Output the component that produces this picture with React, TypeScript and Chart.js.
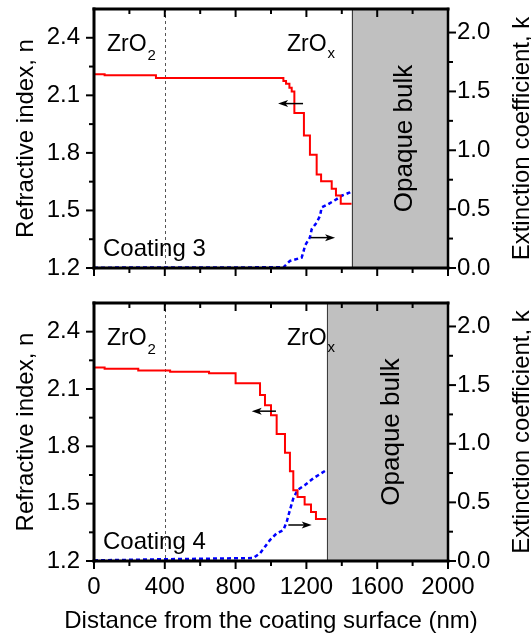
import React, { useEffect, useRef } from 'react';
import { Chart, registerables } from 'chart.js';

Chart.register(...registerables);

const FONT = '"Liberation Sans", Arial, Helvetica, sans-serif';

// Axis ranges and tick positions
const xRange = [0, 2000];
const nRange = [1.2, 2.55];
const kRange = [0, 2.2];
const xTicks = [0, 400, 800, 1200, 1600, 2000];
const xMinorTicks = [200, 600, 1000, 1400, 1800];
const nTicks = [1.2, 1.5, 1.8, 2.1, 2.4];
const nMinorTicks = [1.35, 1.65, 1.95, 2.25];
const kTicks = [0, 0.5, 1.0, 1.5, 2.0];
const kMinorTicks = [0.25, 0.75, 1.25, 1.75];

// Depth of the ZrO2 / ZrOx boundary marker (nm)
const zro2Boundary = 400;

// Coating 3: refractive index profile (stepped) and extinction coefficient
const c3DepthN = [0, 60, 350, 1070, 1085, 1104, 1117, 1132, 1186, 1220, 1258, 1283, 1343, 1367, 1394, 1418, 1455];
const c3N = [2.215, 2.21, 2.205, 2.19, 2.175, 2.16, 2.14, 2.12, 2.008, 1.89, 1.79, 1.687, 1.652, 1.613, 1.578, 1.535, 1.535];
const c3DepthK = [0, 600, 1070, 1107, 1173, 1182, 1192, 1220, 1230, 1258, 1277, 1286, 1324, 1371, 1399, 1446, 1455];
const c3K = [0.003, 0.004, 0.006, 0.06, 0.088, 0.13, 0.19, 0.26, 0.33, 0.386, 0.443, 0.514, 0.543, 0.585, 0.614, 0.642, 0.648];
const c3Bulk = 1455;
const c3ArrowN = [1181, 1040, 2.057]; // from depth, to depth, n
const c3ArrowK = [1224, 1362, 0.258]; // from depth, to depth, k

// Coating 4
const c4DepthN = [0, 60, 250, 430, 650, 800, 938, 966, 1000, 1032, 1079, 1107, 1126, 1150, 1190, 1226, 1254, 1290, 1313];
const c4N = [2.217, 2.213, 2.206, 2.197, 2.19, 2.182, 2.13, 2.068, 2.015, 1.962, 1.864, 1.766, 1.67, 1.57, 1.535, 1.495, 1.457, 1.42, 1.42];
const c4DepthK = [0, 400, 900, 938, 966, 994, 1032, 1070, 1089, 1107, 1126, 1150, 1192, 1239, 1313];
const c4K = [0.005, 0.015, 0.025, 0.066, 0.122, 0.179, 0.236, 0.264, 0.335, 0.435, 0.534, 0.605, 0.648, 0.705, 0.775];
const c4Bulk = 1315;
const c4ArrowN = [1028, 891, 1.984];
const c4ArrowK = [1098, 1230, 0.307];

const zroxDepth = 1090;

type Panel = {
  label: string;
  depthN: number[];
  n: number[];
  depthK: number[];
  k: number[];
  bulk: number;
  arrowN: number[];
  arrowK: number[];
  showX: boolean;
  top: number;
  xHeight: number;
  height: number;
};

const panels: Panel[] = [
  { label: 'Coating 3', depthN: c3DepthN, n: c3N, depthK: c3DepthK, k: c3K, bulk: c3Bulk,
    arrowN: c3ArrowN, arrowK: c3ArrowK, showX: false, top: 9, xHeight: 22, height: 290 },
  { label: 'Coating 4', depthN: c4DepthN, n: c4N, depthK: c4DepthK, k: c4K, bulk: c4Bulk,
    arrowN: c4ArrowN, arrowK: c4ArrowK, showX: true, top: 13, xHeight: 73, height: 344 },
];

function seg(ctx: CanvasRenderingContext2D, x1: number, y1: number, x2: number, y2: number) {
  ctx.beginPath();
  ctx.moveTo(x1, y1);
  ctx.lineTo(x2, y2);
  ctx.stroke();
}

function arrow(ctx: CanvasRenderingContext2D, x1: number, y: number, x2: number) {
  const dir = Math.sign(x2 - x1);
  const head = 10;
  ctx.save();
  ctx.strokeStyle = '#000';
  ctx.fillStyle = '#000';
  ctx.lineWidth = 1.5;
  seg(ctx, x1, y, x2 - dir * head * 0.6, y);
  ctx.beginPath();
  ctx.moveTo(x2, y);
  ctx.lineTo(x2 - dir * head, y - 3.5);
  ctx.lineTo(x2 - dir * head * 0.75, y);
  ctx.lineTo(x2 - dir * head, y + 3.5);
  ctx.closePath();
  ctx.fill();
  ctx.restore();
}

function withSub(ctx: CanvasRenderingContext2D, x: number, y: number, main: string, sub: string, subDy: number) {
  ctx.font = `23px ${FONT}`;
  ctx.textAlign = 'left';
  ctx.textBaseline = 'alphabetic';
  ctx.fillText(main, x, y);
  const w = ctx.measureText(main).width;
  ctx.font = `15px ${FONT}`;
  ctx.fillText(sub, x + w + 1, y + subDy);
}

function vText(ctx: CanvasRenderingContext2D, text: string, x: number, y: number, size: number) {
  ctx.save();
  ctx.translate(x, y);
  ctx.rotate(-Math.PI / 2);
  ctx.font = `${size}px ${FONT}`;
  ctx.textAlign = 'center';
  ctx.textBaseline = 'alphabetic';
  ctx.fillText(text, 0, 0);
  ctx.restore();
}

function decorPlugin(p: Panel) {
  return {
    id: 'decor',
    beforeDatasetsDraw(chart: any) {
      const { ctx, chartArea: a, scales } = chart;
      const bx = scales.x.getPixelForValue(p.bulk);
      ctx.save();
      ctx.fillStyle = '#c0c0c0';
      ctx.fillRect(bx, a.top, a.right - bx, a.bottom - a.top);
      ctx.strokeStyle = '#3c3c3c';
      ctx.lineWidth = 1;
      seg(ctx, Math.round(bx) + 0.5, a.top, Math.round(bx) + 0.5, a.bottom);
      const dx = Math.round(scales.x.getPixelForValue(zro2Boundary)) + 0.5;
      ctx.setLineDash([3, 3]);
      ctx.strokeStyle = '#555';
      seg(ctx, dx, a.top, dx, a.bottom);
      ctx.restore();
    },
    afterDatasetsDraw(chart: any) {
      const { ctx, chartArea: a, scales } = chart;
      const sx = scales.x, sn = scales.y, sk = scales.y1;

      // arrows pointing to the axis each curve belongs to
      arrow(ctx, sx.getPixelForValue(p.arrowN[0]), sn.getPixelForValue(p.arrowN[2]), sx.getPixelForValue(p.arrowN[1]));
      arrow(ctx, sx.getPixelForValue(p.arrowK[0]), sk.getPixelForValue(p.arrowK[2]), sx.getPixelForValue(p.arrowK[1]));

      ctx.save();
      ctx.strokeStyle = '#000';
      ctx.lineCap = 'butt';
      // tick marks
      ctx.lineWidth = 2;
      const major = 8, minor = 5;
      xTicks.forEach((v) => {
        const x = sx.getPixelForValue(v);
        seg(ctx, x, a.bottom, x, a.bottom + major);
        seg(ctx, x, a.top, x, a.top + major);
      });
      xMinorTicks.forEach((v) => {
        const x = sx.getPixelForValue(v);
        seg(ctx, x, a.bottom, x, a.bottom + minor);
        seg(ctx, x, a.top, x, a.top + minor);
      });
      nTicks.forEach((v) => { const y = sn.getPixelForValue(v); seg(ctx, a.left - major, y, a.left, y); });
      nMinorTicks.forEach((v) => { const y = sn.getPixelForValue(v); seg(ctx, a.left - minor, y, a.left, y); });
      kTicks.forEach((v) => { const y = sk.getPixelForValue(v); seg(ctx, a.right, y, a.right + major, y); });
      kMinorTicks.forEach((v) => { const y = sk.getPixelForValue(v); seg(ctx, a.right, y, a.right + minor, y); });

      // frame
      ctx.lineWidth = 3;
      ctx.lineCap = 'square';
      seg(ctx, a.left, a.top, a.right, a.top);
      seg(ctx, a.left, a.bottom, a.right, a.bottom);
      seg(ctx, a.left, a.top, a.left, a.bottom);
      ctx.lineWidth = 2.5;
      seg(ctx, a.right, a.top, a.right, a.bottom);
      ctx.restore();

      // labels inside the plot
      ctx.save();
      ctx.fillStyle = '#000';
      withSub(ctx, a.left + 13, a.top + 42, 'ZrO', '2', 9);
      withSub(ctx, sx.getPixelForValue(zroxDepth), a.top + 42, 'ZrO', 'x', 7);
      ctx.font = `24px ${FONT}`;
      ctx.textAlign = 'left';
      ctx.fillText(p.label, a.left + 9, a.bottom - 12);
      const bx = sx.getPixelForValue(p.bulk);
      vText(ctx, 'Opaque bulk', (bx + a.right) / 2 + 12, (a.top + a.bottom) / 2, 26);

      // axis titles
      const cy = (a.top + a.bottom) / 2;
      vText(ctx, 'Refractive index, n', 33, cy, 24);
      vText(ctx, 'Extinction coefficient, k', 529, cy, 24);
      if (p.showX) {
        ctx.font = `24px ${FONT}`;
        ctx.textAlign = 'center';
        ctx.textBaseline = 'alphabetic';
        ctx.fillText('Distance from the coating surface (nm)', (a.left + a.right) / 2, a.bottom + 67);
      }
      ctx.restore();
    },
  };
}

// Fixed box sizes so the plot area sits at the same place in both panels
function fixBox(size: { width?: number; height?: number }) {
  return (s: any) => {
    if (size.width !== undefined) s.width = size.width;
    if (size.height !== undefined) s.height = size.height;
    s.paddingTop = 0;
    s.paddingBottom = 0;
    s.paddingLeft = 0;
    s.paddingRight = 0;
  };
}

function makeChart(canvas: HTMLCanvasElement, p: Panel) {
  const pts = (xs: number[], ys: number[]) => xs.map((x, i) => ({ x, y: ys[i] }));
  const tickFont = { family: FONT, size: 24 };
  return new Chart(canvas, {
    type: 'line',
    data: {
      datasets: [
        {
          data: pts(p.depthN, p.n),
          yAxisID: 'y',
          borderColor: '#ff0000',
          borderWidth: 2,
          stepped: 'after',
          pointRadius: 0,
          fill: false,
        },
        {
          data: pts(p.depthK, p.k),
          yAxisID: 'y1',
          borderColor: '#0000ff',
          borderWidth: 2.5,
          borderDash: [4, 3],
          pointRadius: 0,
          tension: 0,
          fill: false,
        },
      ],
    },
    options: {
      animation: false,
      responsive: false,
      events: [],
      layout: { padding: { top: p.top, left: 0, right: 0, bottom: 0 } },
      plugins: { legend: { display: false }, tooltip: { enabled: false } },
      scales: {
        x: {
          type: 'linear',
          min: xRange[0],
          max: xRange[1],
          grid: { display: false, drawTicks: false },
          border: { display: false },
          afterBuildTicks: (s: any) => { s.ticks = xTicks.map((v) => ({ value: v })); },
          afterFit: fixBox({ height: p.xHeight }),
          ticks: {
            display: p.showX,
            padding: 12,
            color: '#000',
            font: tickFont,
            maxRotation: 0,
            autoSkip: false,
            callback: (v: any) => String(v),
          },
        },
        y: {
          type: 'linear',
          position: 'left',
          min: nRange[0],
          max: nRange[1],
          grid: { display: false, drawTicks: false },
          border: { display: false },
          afterBuildTicks: (s: any) => { s.ticks = nTicks.map((v) => ({ value: v })); },
          afterFit: fixBox({ width: 94 }),
          ticks: { padding: 14, color: '#000', font: tickFont, callback: (v: any) => Number(v).toFixed(1) },
        },
        y1: {
          type: 'linear',
          position: 'right',
          min: kRange[0],
          max: kRange[1],
          grid: { display: false, drawTicks: false },
          border: { display: false },
          afterBuildTicks: (s: any) => { s.ticks = kTicks.map((v) => ({ value: v })); },
          afterFit: fixBox({ width: 83 }),
          ticks: { padding: 9, color: '#000', font: tickFont, callback: (v: any) => Number(v).toFixed(1) },
        },
      },
    },
    plugins: [decorPlugin(p)],
  } as any);
}

export default function App() {
  const topRef = useRef<HTMLCanvasElement>(null);
  const bottomRef = useRef<HTMLCanvasElement>(null);

  useEffect(() => {
    const charts = [makeChart(topRef.current!, panels[0]), makeChart(bottomRef.current!, panels[1])];
    return () => charts.forEach((c) => c.destroy());
  }, []);

  return (
    <div style={{ position: 'absolute', left: 0, top: 0, width: 531, height: 634, background: '#fff' }}>
      <canvas ref={topRef} width={531} height={panels[0].height}
        style={{ position: 'absolute', left: 0, top: 0, display: 'block' }} />
      <canvas ref={bottomRef} width={531} height={panels[1].height}
        style={{ position: 'absolute', left: 0, top: panels[0].height, display: 'block' }} />
    </div>
  );
}
